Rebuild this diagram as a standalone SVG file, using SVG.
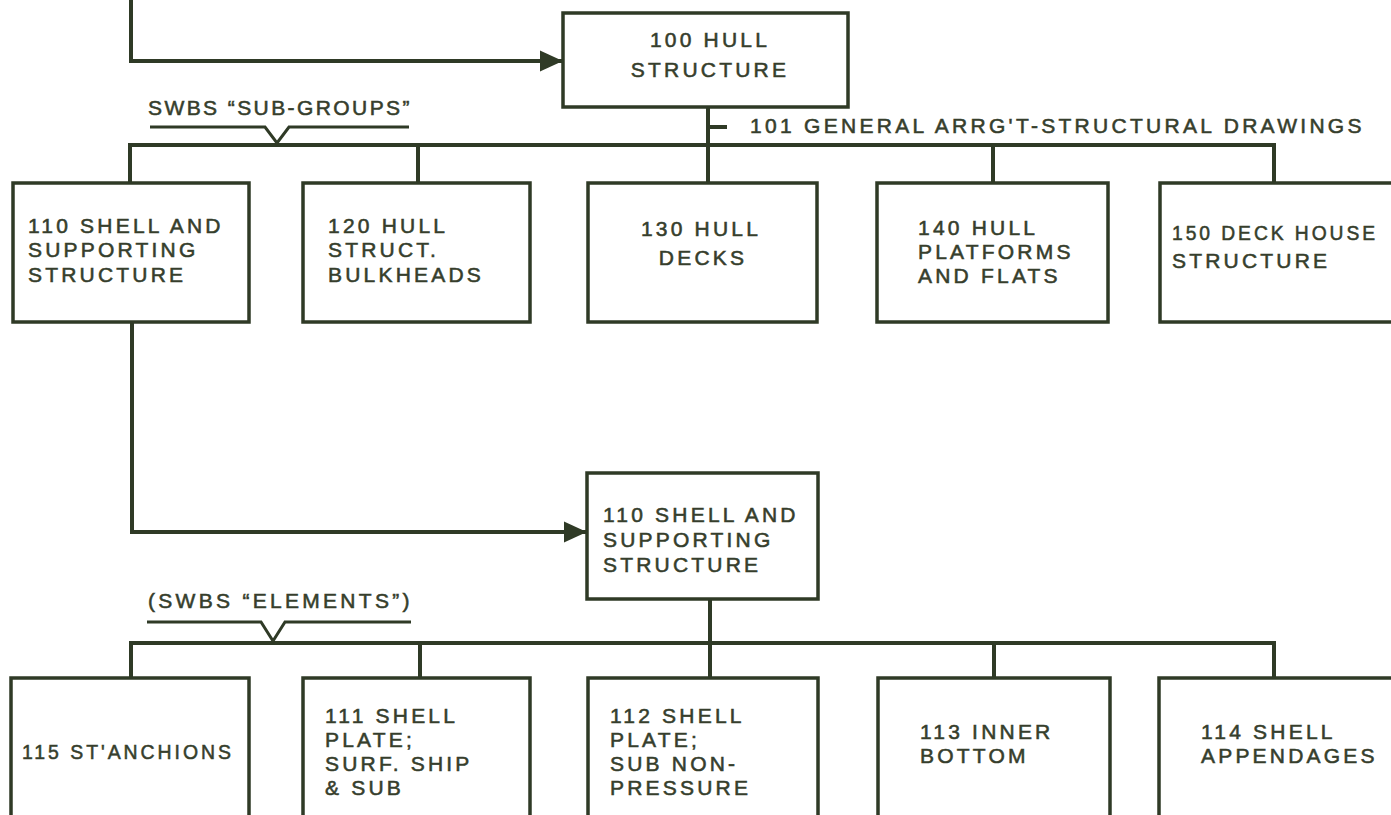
<svg xmlns="http://www.w3.org/2000/svg" width="1391" height="815" viewBox="0 0 1391 815">
<defs>
<style>
.bx{fill:#fff;stroke:#2f3a26;stroke-width:3.5}
.cn{fill:none;stroke:#2f3a26;stroke-width:4;stroke-linejoin:miter}
.br{fill:none;stroke:#2f3a26;stroke-width:3}
text{font-family:"Liberation Sans",Arial,sans-serif;font-size:21px;fill:#363e2c;stroke:#363e2c;stroke-width:0.55px;letter-spacing:3.2px}
.c{text-anchor:middle}
.lb{font-size:21px;letter-spacing:0.5px}
</style>
<marker id="ah" markerWidth="7" markerHeight="7" refX="5.6" refY="3" orient="auto" markerUnits="strokeWidth">
<path d="M0,0.3 L5.8,3 L0,5.7 Z" fill="#2f3a26"/>
</marker>
</defs>
<rect width="1391" height="815" fill="#fff"/>

<g id="connectors">
<path class="cn" d="M131,0 V61 H562" marker-end="url(#ah)"/>
<path class="cn" d="M708,107 V183"/>
<path class="cn" d="M708,127 H727"/>
<path class="cn" d="M130,183 V145 H1274 V183"/>
<path class="cn" d="M418,145 V183"/>
<path class="cn" d="M993,145 V183"/>
<path class="cn" d="M132,322 V532 H586" marker-end="url(#ah)"/>
<path class="cn" d="M710,599 V678"/>
<path class="cn" d="M131,678 V643 H1274 V678"/>
<path class="cn" d="M420,643 V678"/>
<path class="cn" d="M994,643 V678"/>
<path class="br" d="M150,127 H265 L277,143 L289,127 H409"/>
<path class="br" d="M147,622 H261 L273,641 L285,622 H411"/>
</g>

<g id="labels">
<text class="lb" x="148" y="115" textLength="262" lengthAdjust="spacing">SWBS “SUB-GROUPS”</text>
<text class="lb" x="750" y="133" textLength="612" lengthAdjust="spacing">101 GENERAL ARRG'T-STRUCTURAL DRAWINGS</text>
<text class="lb" x="148" y="608" textLength="262" lengthAdjust="spacing">(SWBS “ELEMENTS”)</text>
</g>

<g id="n100">
<rect class="bx" x="563" y="13" width="285" height="94"/>
<text class="c" x="710" y="47">100 HULL</text>
<text class="c" x="710" y="77">STRUCTURE</text>
</g>

<g id="n110">
<rect class="bx" x="13" y="183" width="236" height="139"/>
<text x="28" y="233">110 SHELL AND</text>
<text x="28" y="257">SUPPORTING</text>
<text x="28" y="282">STRUCTURE</text>
</g>

<g id="n120">
<rect class="bx" x="303" y="183" width="227" height="139"/>
<text x="328" y="233">120 HULL</text>
<text x="328" y="257">STRUCT.</text>
<text x="328" y="282">BULKHEADS</text>
</g>

<g id="n130">
<rect class="bx" x="588" y="183" width="229" height="139"/>
<text class="c" x="701" y="236">130 HULL</text>
<text class="c" x="703" y="265">DECKS</text>
</g>

<g id="n140">
<rect class="bx" x="877" y="183" width="231" height="139"/>
<text x="918" y="235">140 HULL</text>
<text x="918" y="259">PLATFORMS</text>
<text x="918" y="283">AND FLATS</text>
</g>

<g id="n150">
<rect class="bx" x="1160" y="183" width="260" height="139"/>
<text x="1172" y="240" textLength="206" lengthAdjust="spacingAndGlyphs">150 DECK HOUSE</text>
<text x="1172" y="268">STRUCTURE</text>
</g>

<g id="n110b">
<rect class="bx" x="587" y="473" width="231" height="126"/>
<text x="603" y="522">110 SHELL AND</text>
<text x="603" y="547">SUPPORTING</text>
<text x="603" y="572">STRUCTURE</text>
</g>

<g id="n115">
<rect class="bx" x="11" y="678" width="238" height="160"/>
<text x="22" y="759" textLength="212" lengthAdjust="spacingAndGlyphs">115 ST'ANCHIONS</text>
</g>

<g id="n111">
<rect class="bx" x="303" y="678" width="227" height="160"/>
<text x="325" y="723">111 SHELL</text>
<text x="325" y="747">PLATE;</text>
<text x="325" y="771">SURF. SHIP</text>
<text x="325" y="795">&amp; SUB</text>
</g>

<g id="n112">
<rect class="bx" x="588" y="678" width="230" height="160"/>
<text x="610" y="723">112 SHELL</text>
<text x="610" y="747">PLATE;</text>
<text x="610" y="771">SUB NON-</text>
<text x="610" y="795">PRESSURE</text>
</g>

<g id="n113">
<rect class="bx" x="878" y="678" width="232" height="160"/>
<text x="920" y="739">113 INNER</text>
<text x="920" y="763">BOTTOM</text>
</g>

<g id="n114">
<rect class="bx" x="1159" y="678" width="260" height="160"/>
<text x="1201" y="739">114 SHELL</text>
<text x="1201" y="763">APPENDAGES</text>
</g>
</svg>
